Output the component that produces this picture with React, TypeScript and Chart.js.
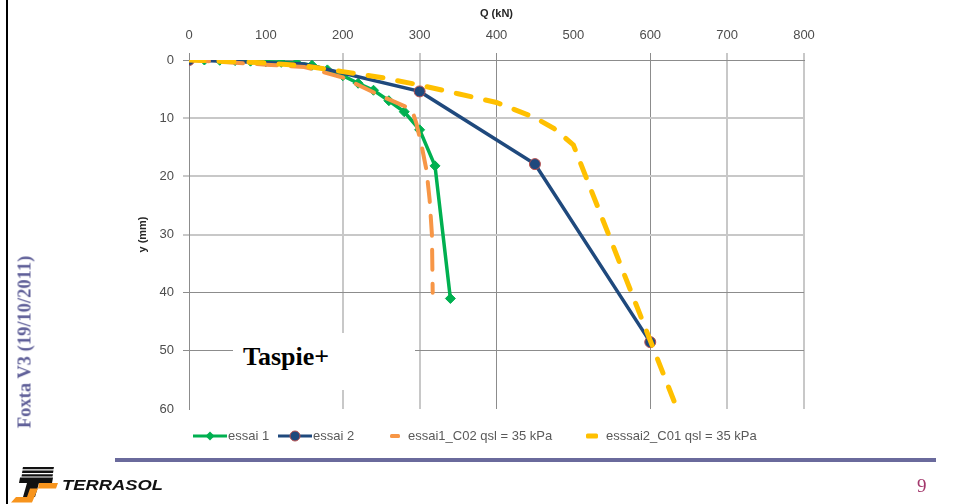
import React, { useEffect, useRef } from "react";
import { Chart, registerables } from "chart.js";

Chart.register(...registerables);

// ---------- data ----------
const seriesNames = ["essai 1", "essai 2", "essai1_C02 qsl = 35 kPa", "esssai2_C01 qsl = 35 kPa"];
const xTickValues = [0, 100, 200, 300, 400, 500, 600, 700, 800];
const yTickValues = [0, 10, 20, 30, 40, 50, 60];

const essai1Q = [0, 20, 40, 60, 80, 100, 120, 140, 160, 180, 200, 220, 240, 260, 280, 300, 320, 340];
const essai1Y = [0, 0, 0.05, 0.1, 0.2, 0.3, 0.4, 0.5, 0.9, 1.7, 2.7, 4.0, 5.2, 7.0, 8.9, 12.0, 18.2, 41.0];

const essai2Q = [0, 150, 300, 450, 600];
const essai2Y = [0, 0.7, 5.4, 17.9, 48.5];

const c02Q = [0, 50, 100, 150, 200, 250, 290, 296, 303, 309, 313, 316, 317];
const c02Y = [0, 0.4, 0.8, 1.2, 3.0, 6.2, 8.5, 11.0, 15.0, 19.0, 24.0, 30.0, 40.0];

const c01Q = [0, 100, 150, 200, 250, 300, 350, 400, 450, 475, 500, 635];
const c01Y = [0, 0.5, 1.0, 2.0, 3.0, 4.3, 5.8, 7.3, 9.9, 11.8, 14.6, 60.0];

// ---------- styles ----------
const GREEN = "#00b050";
const BLUE = "#1f497d";
const ORANGE = "#f79646";
const YELLOW = "#ffc000";
const GRID_DARK = "#8c8c8c";
const GRID_LIGHT = "#c8c8c8";
const TRANSPARENT = "rgba(0,0,0,0)";

const xGrid = (v: number): [string, number] =>
  v === 100 || v === 500 ? [TRANSPARENT, 1] : v === 200 || v === 300 || v === 700 || v === 800 ? [GRID_LIGHT, 2] : [GRID_DARK, 1];
const yGrid = (v: number): [string, number] =>
  v === 60 ? [TRANSPARENT, 1] : v === 10 || v === 20 || v === 30 ? [GRID_LIGHT, 2] : [GRID_DARK, 1];

const toPts = (xs: number[], ys: number[]) => xs.map((x, i) => ({ x, y: ys[i] }));

const legendItems = [
  { kind: "green", left: 193, w: 34, textLeft: 228 },
  { kind: "blue", left: 278, w: 34, textLeft: 313 },
  { kind: "orange", left: 390, w: 10, textLeft: 408 },
  { kind: "yellow", left: 586, w: 12, textLeft: 606 },
];

function LegendMarker({ kind, w }: { kind: string; w: number }) {
  if (kind === "green") {
    const c = w / 2;
    return (
      <svg width={w} height={12} style={{ display: "block" }}>
        <line x1={0} y1={6} x2={w} y2={6} stroke={GREEN} strokeWidth={3} />
        <polygon points={`${c},1.5 ${c + 4.5},6 ${c},10.5 ${c - 4.5},6`} fill={GREEN} />
      </svg>
    );
  }
  if (kind === "blue") {
    const c = w / 2;
    return (
      <svg width={w} height={12} style={{ display: "block" }}>
        <line x1={0} y1={6} x2={w} y2={6} stroke={BLUE} strokeWidth={3} />
        <circle cx={c} cy={6} r={5} fill={BLUE} stroke="#b9504f" strokeWidth={1} />
      </svg>
    );
  }
  const col = kind === "orange" ? ORANGE : YELLOW;
  const h = kind === "orange" ? 4 : 5;
  return (
    <svg width={w} height={12} style={{ display: "block" }}>
      <rect x={0} y={6 - h / 2} width={w} height={h} rx={1.5} fill={col} />
    </svg>
  );
}

export default function App() {
  const canvasRef = useRef<HTMLCanvasElement>(null);

  useEffect(() => {
    if (!canvasRef.current) return;
    Chart.defaults.font.family = "'Liberation Sans', Arial, sans-serif";
    const chart = new Chart(canvasRef.current, {
      type: "scatter",
      data: {
        datasets: [
          {
            label: seriesNames[0],
            data: toPts(essai1Q, essai1Y),
            showLine: true,
            borderColor: GREEN,
            backgroundColor: GREEN,
            borderWidth: 3.5,
            pointStyle: "rectRot",
            pointRadius: 5,
            pointBorderWidth: 1,
            pointBorderColor: GREEN,
            pointBackgroundColor: GREEN,
            order: 3,
          },
          {
            label: seriesNames[1],
            data: toPts(essai2Q, essai2Y),
            showLine: true,
            borderColor: BLUE,
            backgroundColor: BLUE,
            borderWidth: 3.5,
            pointStyle: "circle",
            pointRadius: essai2Q.map((_, i) => (i === 1 ? 0 : 5.5)),
            pointBorderWidth: 1,
            pointBorderColor: "#b9504f",
            pointBackgroundColor: BLUE,
            order: 2,
          },
          {
            label: seriesNames[2],
            data: toPts(c02Q, c02Y),
            showLine: true,
            borderColor: ORANGE,
            backgroundColor: ORANGE,
            borderWidth: 4,
            borderDash: [20, 14],
            borderCapStyle: "round",
            pointRadius: 0,
            order: 1,
          },
          {
            label: seriesNames[3],
            data: toPts(c01Q, c01Y),
            showLine: true,
            borderColor: YELLOW,
            backgroundColor: YELLOW,
            borderWidth: 5,
            borderDash: [15, 15],
            borderCapStyle: "round",
            pointRadius: 0,
            order: 0,
          },
        ],
      },
      options: {
        animation: false,
        responsive: false,
        devicePixelRatio: 1,
        layout: { padding: { left: 120, right: 150, top: 0, bottom: 95 } },
        plugins: { legend: { display: false }, tooltip: { enabled: false } },
        scales: {
          x: {
            type: "linear",
            position: "top",
            min: 0,
            max: 800,
            afterBuildTicks: (s: any) => {
              s.ticks = xTickValues.map((v) => ({ value: v }));
            },
            afterFit: (s: any) => {
              s.height = 60;
            },
            ticks: {
              padding: 10,
              color: "#4d4d4d",
              font: { size: 13 },
              maxRotation: 0,
            },
            grid: {
              color: (c: any) => xGrid(c.tick ? c.tick.value : 0)[0],
              lineWidth: (c: any) => xGrid(c.tick ? c.tick.value : 0)[1],
              tickLength: 7,
            },
            border: { color: GRID_DARK, width: 1 },
            title: {
              display: true,
              text: "Q (kN)",
              color: "#262626",
              font: { size: 11, weight: "bold" },
              padding: { top: 7, bottom: 0 },
            },
          },
          y: {
            type: "linear",
            position: "left",
            reverse: true,
            min: 0,
            max: 60,
            afterBuildTicks: (s: any) => {
              s.ticks = yTickValues.map((v) => ({ value: v }));
            },
            afterFit: (s: any) => {
              s.width = 69;
            },
            ticks: {
              padding: 9,
              color: "#4d4d4d",
              font: { size: 13 },
            },
            grid: {
              color: (c: any) => yGrid(c.tick ? c.tick.value : 0)[0],
              lineWidth: (c: any) => yGrid(c.tick ? c.tick.value : 0)[1],
              tickLength: 6,
            },
            border: { color: GRID_DARK, width: 1 },
            title: {
              display: true,
              text: "y (mm)",
              color: "#262626",
              font: { size: 11, weight: "bold" },
              padding: { top: 16, bottom: 0 },
            },
          },
        },
      },
    } as any);
    return () => chart.destroy();
  }, []);

  return (
    <div
      style={{
        position: "absolute",
        left: 0,
        top: 0,
        width: 954,
        height: 504,
        background: "#ffffff",
        overflow: "hidden",
      }}
    >
      <canvas ref={canvasRef} width={954} height={504} style={{ position: "absolute", left: 0, top: 0 }} />

      {/* Taspie+ label box */}
      <div
        style={{
          position: "absolute",
          left: 233,
          top: 333,
          width: 182,
          height: 57,
          background: "#ffffff",
        }}
      >
        <span
          style={{
            position: "absolute",
            left: 10,
            top: 11,
            fontFamily: "'Liberation Serif', 'Times New Roman', serif",
            fontWeight: "bold",
            fontSize: 26,
            lineHeight: "26px",
            color: "#000",
            whiteSpace: "nowrap",
          }}
        >
          Taspie+
        </span>
      </div>

      {/* legend */}
      {legendItems.map((it, i) => (
        <React.Fragment key={i}>
          <div style={{ position: "absolute", left: it.left, top: 430 }}>
            <LegendMarker kind={it.kind} w={it.w} />
          </div>
          <span
            style={{
              position: "absolute",
              left: it.textLeft,
              top: 428,
              fontFamily: "'Liberation Sans', Arial, sans-serif",
              fontSize: 13,
              lineHeight: "16px",
              color: "#595959",
              whiteSpace: "nowrap",
            }}
          >
            {seriesNames[i]}
          </span>
        </React.Fragment>
      ))}

      {/* slide decorations */}
      <div style={{ position: "absolute", left: 6, top: 0, width: 2, height: 504, background: "#000" }} />
      <div style={{ position: "absolute", left: 115, top: 458, width: 821, height: 4, background: "#6a6a9c" }} />
      <div
        style={{
          position: "absolute",
          left: 25,
          top: 342,
          transform: "translate(-50%, -50%) rotate(-90deg)",
          fontFamily: "'Liberation Serif', 'Times New Roman', serif",
          fontWeight: "bold",
          fontSize: 18.5,
          color: "#5f5f98",
          whiteSpace: "nowrap",
        }}
      >
        Foxta V3 (19/10/2011)
      </div>
      <span
        style={{
          position: "absolute",
          left: 917,
          top: 476,
          fontFamily: "'Liberation Serif', 'Times New Roman', serif",
          fontSize: 19,
          lineHeight: "20px",
          color: "#a3386c",
        }}
      >
        9
      </span>

      {/* Terrasol logo */}
      <svg width={954} height={504} style={{ position: "absolute", left: 0, top: 0, pointerEvents: "none" }}>
        <polygon points="23,467 54,467 53.5,469.3 22.5,469.3" fill="#111" />
        <polygon points="22.5,470.6 53.5,470.6 53,472.9 22,472.9" fill="#111" />
        <polygon points="22,474.2 53,474.2 52.5,476.5 21.5,476.5" fill="#111" />
        <polygon points="20,477.5 53,477.5 52,483 19,483" fill="#111" />
        <polygon points="27,483 39,483 35,497 23,497" fill="#111" />
        <polygon points="39,483 58,483 56,488.5 38,488.5" fill="#f7941d" />
        <polygon points="38,488.5 32,502.5 11,502.5 16,497 27,497 30,488.5" fill="#f7941d" />
        <text
          x={62}
          y={490}
          textLength={101}
          lengthAdjust="spacingAndGlyphs"
          style={{
            fontFamily: "'Liberation Sans', Arial, sans-serif",
            fontWeight: "bold",
            fontStyle: "italic",
            fontSize: 14,
          }}
          fill="#111"
        >
          TERRASOL
        </text>
      </svg>
    </div>
  );
}
